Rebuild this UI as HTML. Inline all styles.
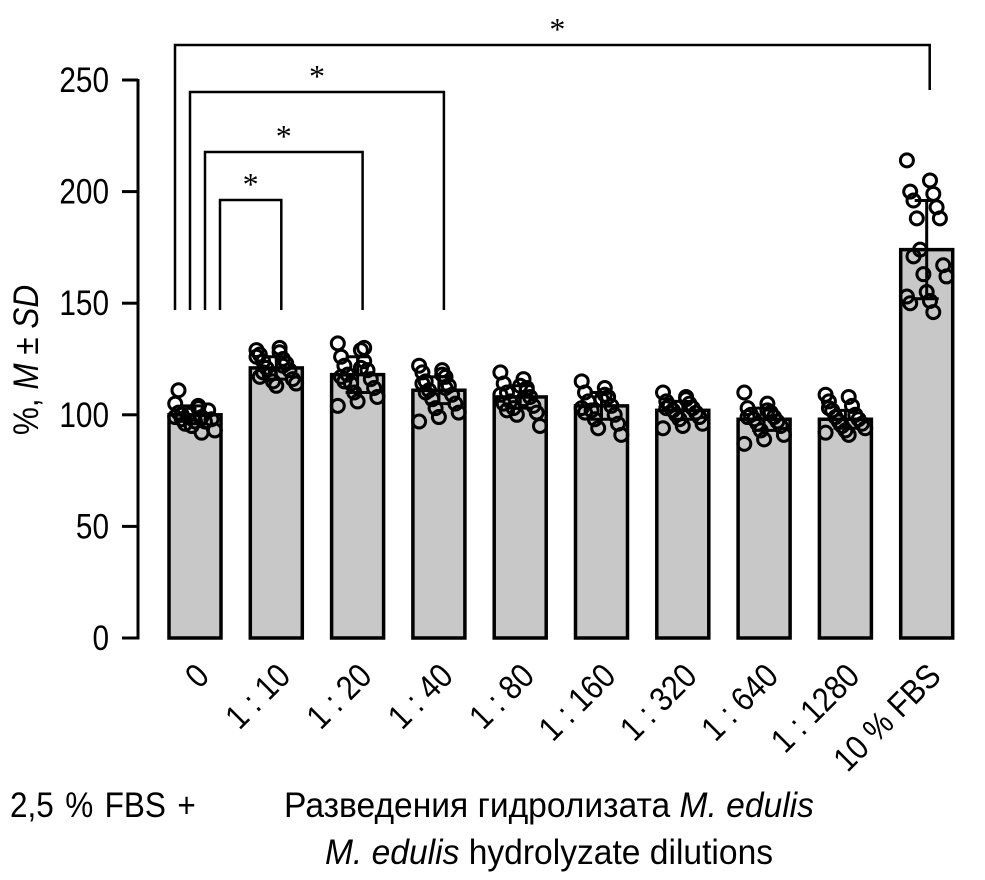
<!DOCTYPE html>
<html><head><meta charset="utf-8"><style>
body{margin:0;background:#fff;}
svg{display:block;font-family:"Liberation Sans",sans-serif;}
</style></head><body>
<svg id="chart" width="985" height="880" viewBox="0 0 985 880" style="position:absolute;left:0;top:0"></svg>
<script>
const categories=["0","1 : 10","1 : 20","1 : 40","1 : 80","1 : 160","1 : 320","1 : 640","1 : 1280","10 % FBS"];
const means=[100,121,118,111,108,104,102,98,98,174];
const sds=[4,5,8,6,5,6,4,5,4,22];
const points=[
[105,103,101,99,98,97,96,102,100,98,95,93,97,99,104,111,92,100],
[129,128,127,125,124,123,121,120,118,116,115,114,113,126,130,117,122,119],
[132,129,126,124,122,120,118,116,114,112,110,108,106,104,121,117,130,115],
[122,120,119,117,115,113,111,109,107,105,103,101,99,97,118,114,112,110],
[119,116,114,112,110,108,106,104,103,101,100,95,113,109,107,105,111,102],
[115,112,110,108,106,104,102,100,98,96,94,91,107,103,109,101],
[110,108,106,105,104,103,102,101,100,99,98,96,95,94,107,103],
[110,105,103,101,100,99,98,97,96,95,93,91,89,87,102,99],
[109,108,106,104,102,100,99,98,97,96,95,94,93,92,91,103],
[214,205,200,199,196,193,188,188,174,167,163,162,155,153,151,150,146,171]];
const yTicks=[0,50,100,150,200,250];
const sigPairs=[[0,9],[0,3],[0,2],[0,1]];

const NS="http://www.w3.org/2000/svg";
const svg=document.getElementById('chart');
function y(v){return 638-(v/250)*558;}
function x(i){return 195+i*81.3;}
function mk(t,a,p){const e=document.createElementNS(NS,t);for(const k in a)e.setAttribute(k,a[k]);(p||svg).appendChild(e);return e;}

let ax=mk('line',{x1:138,y1:y(250)-1,x2:138,y2:639.5,stroke:'#000','stroke-width':3});


yTicks.forEach(t=>{
  let l=mk('line',{x1:122,y1:y(t),x2:138,y2:y(t),stroke:'#000','stroke-width':3});
  
  
  let tx=mk('text',{transform:`translate(109,${y(t)+12}) scale(0.85,1)`,'text-anchor':'end','font-size':35});
  tx.textContent=t;
  
  
});
categories.forEach((c,i)=>{
  let g=mk('g',{});
  
  
  let r=mk('rect',{x:x(i)-26,y:y(means[i]),width:52,height:638-y(means[i]),fill:'#c8c8c8',stroke:'#000','stroke-width':3.5},g);
  
  
  points[i].forEach((v,j)=>{
    const off=((j*7)%13-6)*3.3;
    let p=mk('circle',{cx:x(i)+off,cy:y(v),r:6.5,fill:'none',stroke:'#000','stroke-width':3},g);
    
    
  });
  const hi=y(means[i]+sds[i]),lo=y(means[i]-sds[i]);
  let e=mk('path',{d:`M${x(i)},${hi}V${lo}M${x(i)-12},${hi}H${x(i)+12}M${x(i)-12},${lo}H${x(i)+12}`,stroke:'#000','stroke-width':3,fill:'none'},g);
  
  
  let t=mk('text',{transform:`translate(${x(i)+16},${678}) rotate(-45) scale(0.88,1)`,'text-anchor':'end','font-size':34},g);
  t.textContent=c;
  
  
});
const levels=[45,92,152,200];
const legX=[175,190,205,220];
const rightBottom=[90,310,310,310];
sigPairs.forEach((p,k)=>{
  const x1=legX[k],x2=x(p[1])+(k==0?3:5),yy=levels[k];
  let b=mk('path',{d:`M${x1},310V${yy}H${x2}V${rightBottom[k]}`,stroke:'#000','stroke-width':2.5,fill:'none'});
  
  
  let s=mk('text',{x:(x1+x2)/2+(k==0?5:0),y:yy-5,'text-anchor':'middle','font-size':32,'font-family':'Liberation Serif,serif'});
  s.textContent='*';
  
  
});
</script>
<svg style="position:absolute;left:0;top:0" width="985" height="880">
<text transform="translate(38,360) rotate(-90) scale(0.9,1)" text-anchor="middle" font-size="35">%, <tspan font-style="italic">M</tspan> ± <tspan font-style="italic">SD</tspan></text>
<text transform="translate(10,817) scale(0.9,1)" font-size="35" word-spacing="3">2,5 % FBS +</text>
<text transform="translate(549,817) scale(0.96,1)" text-anchor="middle" font-size="35">Разведения гидролизата <tspan font-style="italic">M. edulis</tspan></text>
<text transform="translate(549,864) scale(0.96,1)" text-anchor="middle" font-size="35"><tspan font-style="italic">M. edulis</tspan> hydrolyzate dilutions</text>
</svg>
</body></html>
